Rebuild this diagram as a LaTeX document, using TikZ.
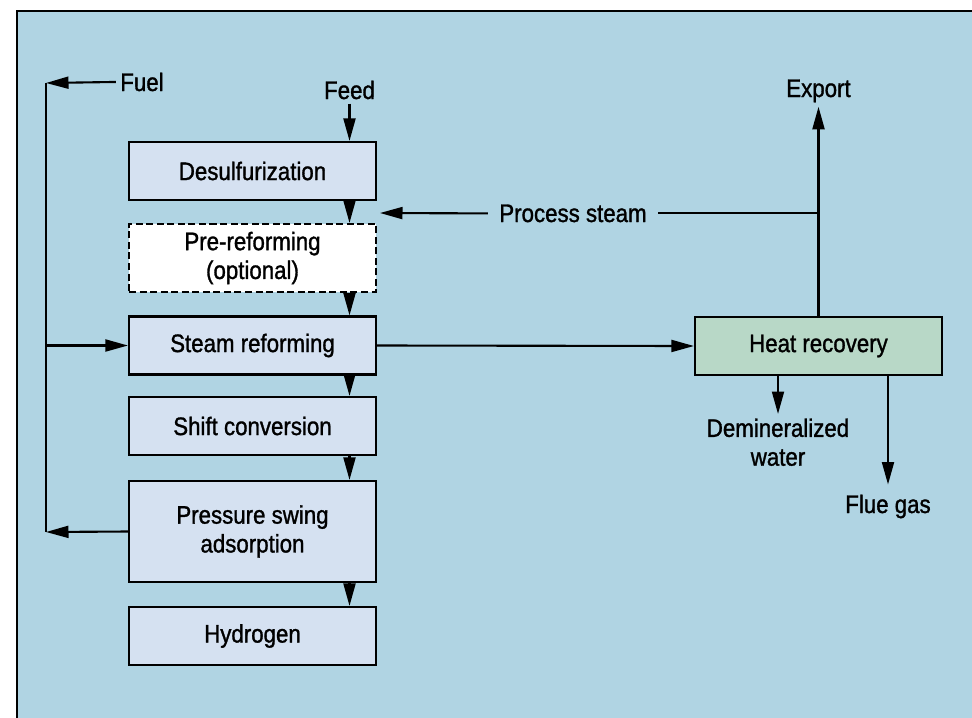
\documentclass[tikz,border=0pt]{standalone}
\usepackage{fontspec}
\setmainfont[FakeStretch=0.88, FakeBold=1.2]{Liberation Sans}
\usetikzlibrary{positioning}
\usetikzlibrary{arrows.meta}
\definecolor{bgblue}{HTML}{B0D4E3}
\definecolor{boxblue}{HTML}{D5E1F1}
\definecolor{boxgreen}{HTML}{B8D8C7}
\tikzset{
	every node/.style = {font=\fontsize{18}{20.5}\selectfont},
	unit/.style = {draw, line width=1.5pt, fill=boxblue, minimum width=6.175cm, minimum height=1.45cm, align=center},
	optunit/.style = {unit, fill=white, dash pattern=on 5pt off 2.5pt},
	label/.style = {inner sep=3pt, align=center},
	arr/.style = {-{Triangle[length=16pt,width=8.5pt]}, line width=1.5pt},
	ln/.style = {line width=1.5pt}
}

\begin{document}
\begin{tikzpicture}[x=0.025cm, y=-0.025cm]
		\clip (0,0) rectangle (972,717);
		% frame
		\draw[fill=bgblue, line width=2pt] (17,11) rectangle (1000,740);
		
		% main line
		\node[unit] (desulf) at (252.5,171) {Desulfurization};
		\node[optunit, minimum height=1.7cm] (prereform) at (252.5,258) {Pre-reforming\\(optional)};
		\node[unit] (steamref) at (252.5,345.5) {Steam reforming};
		\node[unit] (shift) at (252.5,426) {Shift conversion};
		\node[unit, minimum height=2.525cm] (psa) at (252.5,531.5) {Pressure swing\\adsorption};
		\node[unit] (hydrogen) at (252.5,636) {Hydrogen};
		\node[unit, fill=boxgreen] (heatrec) at (818.5,346) {Heat recovery};
		
		% streams
		\node[label, anchor=base] (fuel) at (142,91) {Fuel};
		\node[label, anchor=base] (feed) at (349.5,99) {Feed};
		\node[label, anchor=base] (export) at (818.5,97) {Export};
		\node[label, anchor=base, inner xsep=8pt] (steam) at (573,222) {Process steam};
		\node[label, anchor=north] (demin) at (778,414) {Demineralized\\water};
		\node[label, anchor=base, inner ysep=7pt] (flue) at (888,513) {Flue gas};
		\coordinate (ftop) at (46,83);
		\coordinate (fbot) at (46,532);
		\coordinate (steamin) at (380,213);
		
		% connectors
		\draw[arr] (feed.south) -- (feed.south |- desulf.north);
		\draw[arr] (desulf.south -| feed) -- (prereform.north -| feed);
		\draw[arr] (prereform.south -| feed) -- (steamref.north -| feed);
		\draw[arr] (steamref.south -| feed) -- (shift.north -| feed);
		\draw[arr] (shift.south -| feed) -- (psa.north -| feed);
		\draw[arr] (psa.south -| feed) -- (hydrogen.north -| feed);
		
		\draw[arr] (fuel.west) -- (ftop);
		\draw[ln] (ftop) -- (fbot);
		\draw[arr] (psa.west) -- (fbot);
		\draw[arr] (ftop |- steamref.west) -- (steamref.west);
		
		\draw[arr] (steam.west) -- (steamin);
		\draw[ln] (steam.east) -- (steam.east -| heatrec.north);
		\draw[arr] (heatrec.north) -- (export.south);
		\draw[arr] (steamref.east) -- (heatrec.west);
		\draw[arr] (heatrec.south -| demin) -- (demin.north);
		\draw[arr] (heatrec.south -| flue) -- (flue.north);
	\end{tikzpicture}
\end{document}
